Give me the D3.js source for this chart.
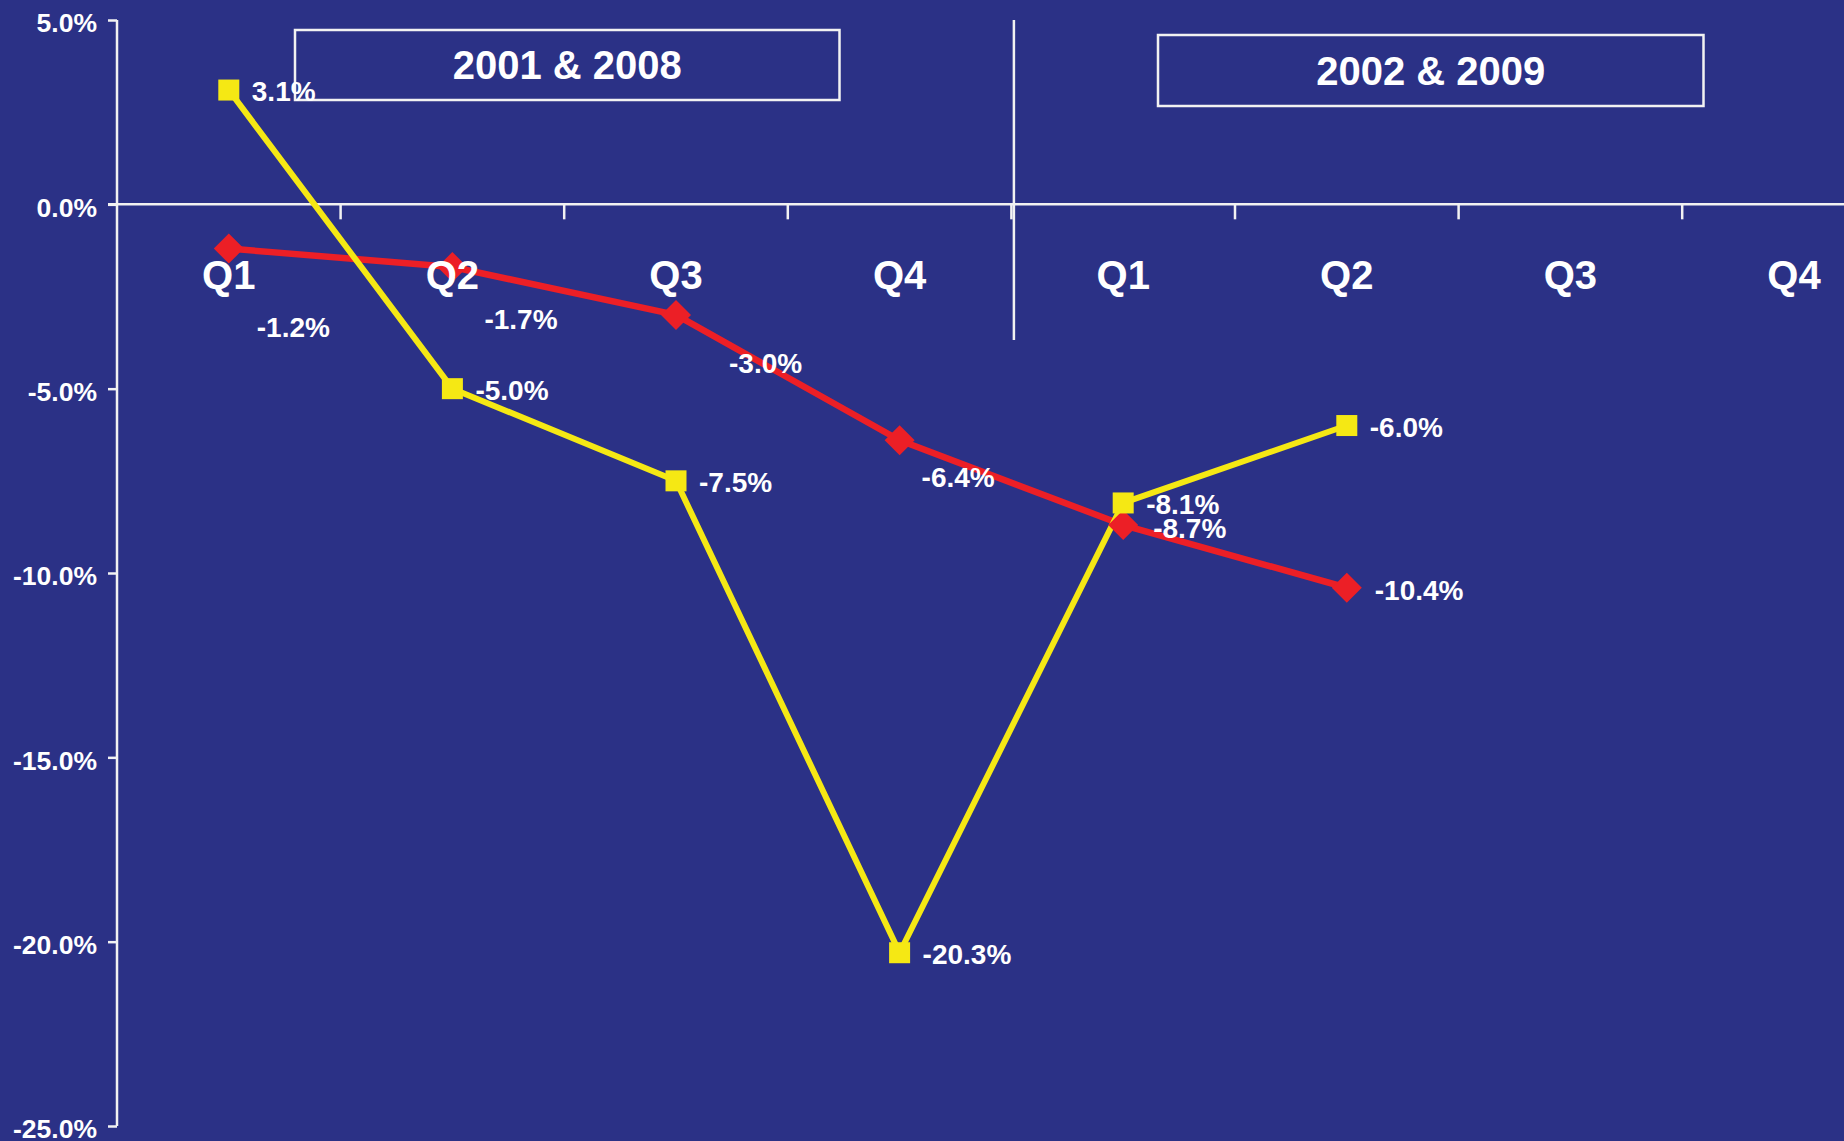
<!DOCTYPE html>
<html>
<head>
<meta charset="utf-8">
<script src="https://cdn.jsdelivr.net/npm/d3@7/dist/d3.min.js"></script>
<style>
  html, body { margin: 0; padding: 0; background: #2b3186; }
  svg { display: block; }
  text { font-family: "Liberation Sans", Arial, sans-serif; font-weight: bold; fill: #ffffff; }
</style>
</head>
<body>
<script>
// Quarter slots: two consecutive years per recession cycle
const periods = ["Y1", "Y1", "Y1", "Y1", "Y2", "Y2", "Y2", "Y2"];
const quarterLabels = ["Q1", "Q2", "Q3", "Q4", "Q1", "Q2", "Q3", "Q4"];

// Quarter-over-quarter change, percent
const squareSeries = [3.1, -5.0, -7.5, -20.3, -8.1, -6.0];
const diamondSeries = [-1.2, -1.7, -3.0, -6.4, -8.7, -10.4];

const yTicks = [5, 0, -5, -10, -15, -20, -25];
const yearBoxes = ["2001 & 2008", "2002 & 2009"];

// ---- layout ----
const W = 1844, H = 1141;
const BG = "#2b3186", YELLOW = "#f5e814", RED = "#ec1f26", AXIS = "#f2f2f2";

const svg = d3.select("body").append("svg").attr("width", W).attr("height", H);
svg.append("rect").attr("width", W).attr("height", H).attr("fill", BG);

const slots = periods.map((p, i) => p + " " + quarterLabels[i]);
const x = d3.scaleBand().domain(slots).range([117, 117 + 8 * 223.6]).paddingInner(0).paddingOuter(0);
const cx = i => x(slots[i]) + x.bandwidth() / 2;
const y = d3.scaleLinear().domain([-25, 5]).range([1126, 20]);

// ---- year boxes and cycle divider ----
const boxGeom = [
  { x0: 295, x1: 839.5, y0: 30, y1: 100 },
  { x0: 1158, x1: 1703.5, y0: 35, y1: 106 }
];
const boxes = svg.append("g");
boxes.selectAll("rect").data(boxGeom).join("rect")
  .attr("x", d => d.x0).attr("y", d => d.y0)
  .attr("width", d => d.x1 - d.x0).attr("height", d => d.y1 - d.y0)
  .attr("fill", "none").attr("stroke", AXIS).attr("stroke-width", 2.5);
boxes.selectAll("text").data(boxGeom).join("text")
  .attr("x", d => (d.x0 + d.x1) / 2)
  .attr("y", d => (d.y0 + d.y1) / 2 + 14)
  .attr("text-anchor", "middle")
  .style("font-size", "40px")
  .text((d, i) => yearBoxes[i]);

svg.append("line")
  .attr("x1", x(slots[4]) + 2.5).attr("x2", x(slots[4]) + 2.5)
  .attr("y1", y(5)).attr("y2", 340)
  .attr("stroke", AXIS).attr("stroke-width", 2.5);

// ---- y axis ----
const yAxis = d3.axisLeft(y).tickValues(yTicks).tickSize(9).tickPadding(11)
  .tickFormat(d => d.toFixed(1) + "%");
const gy = svg.append("g").attr("transform", "translate(117,0)").call(yAxis);
gy.select(".domain").attr("stroke", AXIS).attr("stroke-width", 2.5).attr("d", `M0,${y(5)}V${y(-25)}`);
gy.selectAll(".tick line").attr("stroke", AXIS).attr("stroke-width", 2.5);
gy.selectAll(".tick text").attr("fill", "#fff").attr("dy", "0.44em")
  .style("font-size", "26.5px").style("font-family", "'Liberation Sans', Arial, sans-serif").style("font-weight", "bold");

// ---- zero line with quarter boundary ticks ----
const y0 = y(0);
svg.append("line").attr("x1", 108).attr("x2", W).attr("y1", y0).attr("y2", y0)
  .attr("stroke", AXIS).attr("stroke-width", 2.5);
svg.append("g").selectAll("line").data(slots.slice(1)).join("line")
  .attr("x1", d => x(d)).attr("x2", d => x(d))
  .attr("y1", y0).attr("y2", y0 + 15)
  .attr("stroke", AXIS).attr("stroke-width", 2.5);

// ---- series lines ----
const line = d3.line().x((d, i) => cx(i)).y(d => y(d));
svg.append("path").datum(diamondSeries).attr("d", line)
  .attr("fill", "none").attr("stroke", RED).attr("stroke-width", 6.5).attr("stroke-linejoin", "round");
svg.append("path").datum(squareSeries).attr("d", line)
  .attr("fill", "none").attr("stroke", YELLOW).attr("stroke-width", 6).attr("stroke-linejoin", "round");

// ---- markers ----
svg.append("g").selectAll("path").data(diamondSeries).join("path")
  .attr("d", (d, i) => {
    const px = cx(i), py = y(d), r = 15;
    return `M${px},${py - r}L${px + r},${py}L${px},${py + r}L${px - r},${py}Z`;
  })
  .attr("fill", RED);
svg.append("g").selectAll("rect").data(squareSeries).join("rect")
  .attr("x", (d, i) => cx(i) - 10.5).attr("y", d => y(d) - 10.5)
  .attr("width", 21).attr("height", 21).attr("fill", YELLOW);

// ---- value labels ----
const fmt = v => v.toFixed(1) + "%";
const diamondNudge = [[28, 78], [32, 52], [53, 48], [22, 37], [30, 3], [28, 2]];
svg.append("g").selectAll("text").data(squareSeries).join("text")
  .attr("x", (d, i) => cx(i) + 23).attr("y", d => y(d) + 1)
  .attr("dy", "0.36em").style("font-size", "28px")
  .text(fmt);
svg.append("g").selectAll("text").data(diamondSeries).join("text")
  .attr("x", (d, i) => cx(i) + diamondNudge[i][0]).attr("y", (d, i) => y(d) + diamondNudge[i][1])
  .attr("dy", "0.36em").style("font-size", "28px")
  .text(fmt);

// ---- quarter labels ----
svg.append("g").selectAll("text").data(slots).join("text")
  .attr("x", (d, i) => cx(i)).attr("y", 289)
  .attr("text-anchor", "middle").style("font-size", "40px")
  .text((d, i) => quarterLabels[i]);
</script>
</body>
</html>
